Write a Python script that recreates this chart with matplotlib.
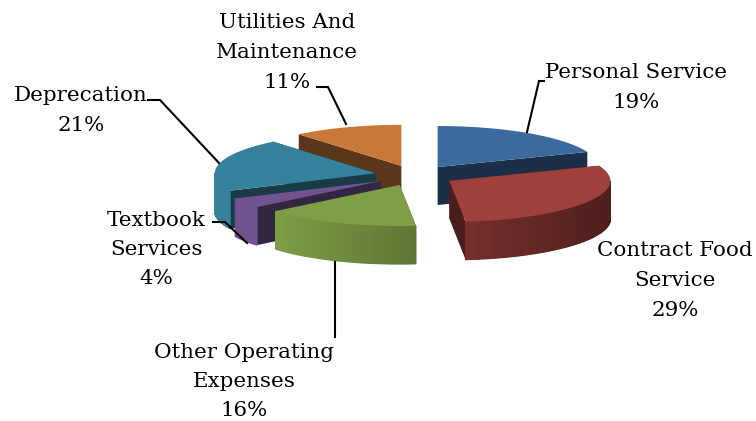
import numpy as np
import matplotlib
matplotlib.use("Agg")
import matplotlib.pyplot as plt
from matplotlib.patches import Polygon

categories = ["Personal Service", "Contract Food Service", "Other Operating Expenses",
              "Textbook Services", "Deprecation", "Utilities And Maintenance"]
shares = [19, 29.4, 15.6, 4, 21, 11]
share_labels = ["19%", "29%", "16%", "4%", "21%", "11%"]
colors = ["#3c6a9e", "#a0403c", "#7f9f47", "#6f5490", "#35829c", "#c8793a"]

# pie geometry, in pixels of the 756x421 picture
cx, cy = 415, 175.5
rx, ry = 161, 41
depth = 38
explode = 0.25
# back to front
draw_order = [5, 0, 4, 3, 1, 2]


def rim(center, theta):
    # theta in degrees, clockwise from 12 o'clock
    t = np.radians(theta)
    return center[0] + rx * np.sin(t), center[1] - ry * np.cos(t)


def shade(color, f):
    rgb = np.array(matplotlib.colors.to_rgb(color))
    return tuple(np.clip(rgb * f, 0, 1))


fig = plt.figure(figsize=(7.56, 4.21), dpi=100)
ax = fig.add_axes([0, 0, 1, 1])
ax.set_xlim(0, 756)
ax.set_ylim(421, 0)
ax.axis("off")

edges = np.cumsum([0] + shares) * 3.6

for i in draw_order:
    start, end = edges[i], edges[i + 1]
    mid = np.radians((start + end) / 2)
    apex = (cx + explode * rx * np.sin(mid), cy - explode * ry * np.cos(mid))
    c = colors[i]

    # cut faces
    for a in (start, end):
        x, y = rim(apex, a)
        ax.add_patch(Polygon([apex, (x, y), (x, y + depth), (apex[0], apex[1] + depth)],
                             fc=shade(c, 0.45), lw=0))

    # outer wall, only the front half shows
    lo, hi = max(start, 90), min(end, 270)
    if hi > lo:
        th = np.linspace(lo, hi, int(hi - lo) + 2)
        for a, b in zip(th[:-1], th[1:]):
            x0, y0 = rim(apex, a)
            x1, y1 = rim(apex, b)
            f = min(1, 0.77 - 0.29 * np.sin(np.radians((a + b) / 2)))
            ax.add_patch(Polygon([(x0, y0), (x1, y1), (x1, y1 + depth), (x0, y0 + depth)],
                                 fc=shade(c, f), ec=shade(c, f), lw=0.9))

    # top surface
    th = np.linspace(start, end, 80)
    xs, ys = rim(apex, th)
    pts = [apex] + list(zip(xs, ys))
    ax.add_patch(Polygon(pts, fc=c, lw=0))

# leader lines
leaders = [
    ([527, 539, 544], [132, 81, 81]),
    ([148, 160, 219], [100, 100, 163]),
    ([346, 328, 317], [124, 87, 87]),
    ([213, 225, 247], [222, 222, 243]),
    ([335, 335], [262, 337]),
]
for lx, ly in leaders:
    ax.plot(lx, ly, color="black", lw=1.5, solid_joinstyle="miter")

label_lines = ["Personal Service", "Contract Food\nService", "Other Operating\nExpenses",
               "Textbook\nServices", "Deprecation", "Utilities And\nMaintenance"]
label_pos = [(636, 87.5), (675, 280.5), (244, 381.5), (156, 249.5), (81, 110.5), (287, 52.5)]
for name, pct, (x, y) in zip(label_lines, share_labels, label_pos):
    ax.text(x, y, name + "\n" + pct, ha="center", va="center", fontsize=15.4,
            family="DejaVu Serif", color="black", linespacing=1.7)

fig.savefig("out.png", dpi=100)
